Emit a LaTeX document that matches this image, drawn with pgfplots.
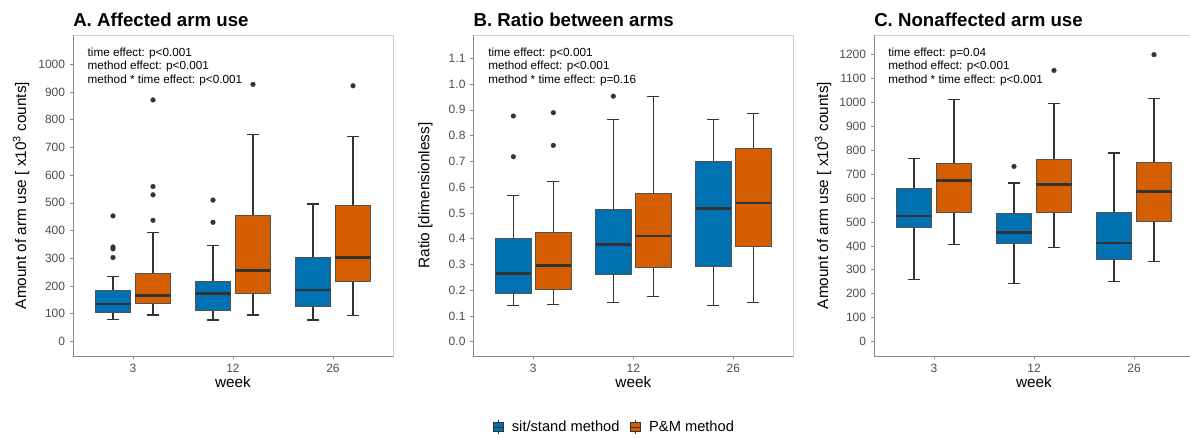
\documentclass[border=0pt]{standalone}
\usepackage{pgfplots}
\pgfplotsset{compat=1.18}
\usepackage{fontspec}
\setmainfont{Liberation Sans}
\definecolor{cblue}{HTML}{0072B2}
\definecolor{corange}{HTML}{D55E00}
\definecolor{boxline}{HTML}{333333}
\definecolor{ticktext}{HTML}{4D4D4D}
\definecolor{framec}{HTML}{CCCCCC}
\definecolor{axisc}{HTML}{888888}

% pos, colour, lower whisker, q1, median, q3, upper whisker
\newcommand{\bx}[7]{%
  \pgfmathsetmacro\xa{#1-0.1775}%
  \pgfmathsetmacro\xb{#1+0.1775}%
  \pgfmathsetmacro\wa{#1-0.06}%
  \pgfmathsetmacro\wb{#1+0.06}%
  \edef\tmp{%
    \noexpand\addplot[forget plot, boxline, line width=0.85pt] coordinates {(#1,#3) (#1,#4)};
    \noexpand\addplot[forget plot, boxline, line width=0.85pt] coordinates {(#1,#6) (#1,#7)};
    \noexpand\addplot[forget plot, boxline, line width=0.85pt] coordinates {(\wa,#3) (\wb,#3)};
    \noexpand\addplot[forget plot, boxline, line width=0.85pt] coordinates {(\wa,#7) (\wb,#7)};
    \noexpand\addplot[forget plot, fill=#2, draw=boxline!85, line width=0.75pt] coordinates {(\xa,#4) (\xb,#4) (\xb,#6) (\xa,#6)} -- cycle;
    \noexpand\addplot[forget plot, boxline, line width=2pt] coordinates {(\xa,#5) (\xb,#5)};
  }\tmp
}
\newcommand{\outl}[1]{%
  \addplot[forget plot, only marks, mark=*, mark size=1.75pt,
    mark options={solid, fill=black!80, draw=black!80, line width=0.3pt}] coordinates {#1};
}
\newcommand{\annot}[4]{%
  \node[anchor=west, font=\fontsize{8.8}{10}\selectfont, inner sep=0pt] at (axis description cs:#1,0.944) {#2};
  \node[anchor=west, font=\fontsize{8.8}{10}\selectfont, inner sep=0pt] at (axis description cs:#1,0.902) {#3};
  \node[anchor=west, font=\fontsize{8.8}{10}\selectfont, inner sep=0pt] at (axis description cs:#1,0.857) {#4};
}
\newcommand{\leftbottom}{%
  \draw[axisc, line width=0.6pt] (axis description cs:0,1) -- (axis description cs:0,0) -- (axis description cs:1,0);
}
\newcommand{\ptitle}[1]{%
  \node[anchor=base west, inner sep=0pt, font=\bfseries\fontsize{14}{16}\selectfont] at (axis description cs:0,1.0258) {#1};
}

\pgfplotsset{
  panel/.style={
    scale only axis, width=240pt, height=240.75pt,
    xmin=0.4, xmax=3.6, xtick={1,2,3}, xticklabels={3,12,26},
    axis line style={framec, line width=0.6pt},
    tick style={axisc, line width=0.5pt},
    tick align=outside, major tick length=2.4pt,
    xtick pos=left, ytick pos=left,
    ticklabel style={font=\fontsize{9}{10}\selectfont, text=ticktext},
    /pgf/number format/assume math mode=true,
    /pgf/number format/1000 sep={},
    xlabel={week},
    label style={font=\fontsize{11.5}{13}\selectfont},
    xlabel style={at={(axis description cs:0.5,-0.08)}, anchor=center},
    clip=false,
  }
}

\begin{document}
\begin{tikzpicture}
\path[use as bounding box] (0,0) rectangle (892.5pt,327.75pt);

% ---------------- Panel A
\begin{axis}[panel, at={(54.75pt,60.75pt)}, anchor=south west,
  ymin=-52, ymax=1105, ytick={0,100,...,1000},
  ylabel={Amount of arm use [ x10\textsuperscript{3} counts]},
  ylabel style={at={(axis description cs:-0.1625,0.5)}, anchor=center}]
\bx{0.8}{cblue}{80}{103}{135}{183}{236}
\bx{1.2}{corange}{96}{138}{167}{246}{394}
\bx{1.8}{cblue}{78}{112}{173}{216}{345}
\bx{2.2}{corange}{96}{173}{256}{454}{745}
\bx{2.8}{cblue}{78}{125}{186}{302}{496}
\bx{3.2}{corange}{94}{216}{303}{489}{740}
\outl{(0.8,453) (0.8,341) (0.8,334) (0.8,303)}
\outl{(1.2,871) (1.2,559) (1.2,529) (1.2,437)}
\outl{(1.8,510) (1.8,430)}
\outl{(2.2,927)}
\outl{(3.2,922)}
\leftbottom
\ptitle{A. Affected arm use}
\annot{0.045}{time effect: p<0.001}{method effect: p<0.001}{method * time effect: p<0.001}
\end{axis}

% ---------------- Panel B
\begin{axis}[panel, at={(355pt,60.75pt)}, anchor=south west,
  ymin=-0.0556, ymax=1.1905, ytick={0,0.1,...,1.15},
  yticklabel style={/pgf/number format/.cd, fixed, fixed zerofill, precision=1},
  ylabel={Ratio [dimensionless]},
  ylabel style={at={(axis description cs:-0.15,0.5)}, anchor=center},
  legend style={at={(axis description cs:0.442,-0.221)}, anchor=center, draw=none, fill=none,
    font=\fontsize{11}{12}\selectfont, legend columns=2,
    /tikz/every even column/.append style={column sep=6pt}},
  legend cell align=left]
\addlegendimage{legend image code/.code={
  \path[draw=none, fill=none] (0pt,0pt) -- (12pt,0pt);
  \draw[fill=cblue, draw=boxline, line width=0.5pt] (0pt,-3.4pt) rectangle (7.5pt,3.4pt);
  \draw[boxline, line width=0.5pt] (3.75pt,-5pt) -- (3.75pt,-3.4pt) (3.75pt,3.4pt) -- (3.75pt,5pt) (0pt,0pt) -- (7.5pt,0pt);}}
\addlegendentry{sit/stand method}
\addlegendimage{legend image code/.code={
  \path[draw=none, fill=none] (0pt,0pt) -- (12pt,0pt);
  \draw[fill=corange, draw=boxline, line width=0.5pt] (0pt,-3.4pt) rectangle (7.5pt,3.4pt);
  \draw[boxline, line width=0.5pt] (3.75pt,-5pt) -- (3.75pt,-3.4pt) (3.75pt,3.4pt) -- (3.75pt,5pt) (0pt,0pt) -- (7.5pt,0pt);}}
\addlegendentry{P\&M method}
\bx{0.8}{cblue}{0.140}{0.188}{0.265}{0.399}{0.568}
\bx{1.2}{corange}{0.145}{0.204}{0.295}{0.424}{0.621}
\bx{1.8}{cblue}{0.153}{0.260}{0.378}{0.514}{0.864}
\bx{2.2}{corange}{0.176}{0.289}{0.410}{0.577}{0.953}
\bx{2.8}{cblue}{0.140}{0.290}{0.518}{0.701}{0.862}
\bx{3.2}{corange}{0.153}{0.369}{0.538}{0.749}{0.885}
\outl{(0.8,0.876) (0.8,0.718)}
\outl{(1.2,0.889) (1.2,0.762)}
\outl{(1.8,0.953)}
\leftbottom
\ptitle{B. Ratio between arms}
\annot{0.046}{time effect: p<0.001}{method effect: p<0.001}{method * time effect: p=0.16}
\end{axis}

% ---------------- Panel C
\begin{axis}[panel, at={(655.5pt,60.75pt)}, anchor=south west,
  ymin=-60, ymax=1281, ytick={0,100,...,1200},
  ylabel={Amount of arm use [ x10\textsuperscript{3} counts]},
  ylabel style={at={(axis description cs:-0.159,0.5)}, anchor=center}]
\bx{0.8}{cblue}{260}{478}{525}{639}{764}
\bx{1.2}{corange}{407}{540}{674}{745}{1012}
\bx{1.8}{cblue}{244}{409}{457}{536}{663}
\bx{2.2}{corange}{395}{540}{656}{759}{995}
\bx{2.8}{cblue}{251}{345}{412}{539}{788}
\bx{3.2}{corange}{333}{503}{626}{748}{1015}
\outl{(1.8,732)}
\outl{(2.2,1133)}
\outl{(3.2,1199)}
\leftbottom
\ptitle{C. Nonaffected arm use}
\annot{0.044}{time effect: p=0.04}{method effect: p<0.001}{method * time effect: p<0.001}
\end{axis}
\end{tikzpicture}
\end{document}
